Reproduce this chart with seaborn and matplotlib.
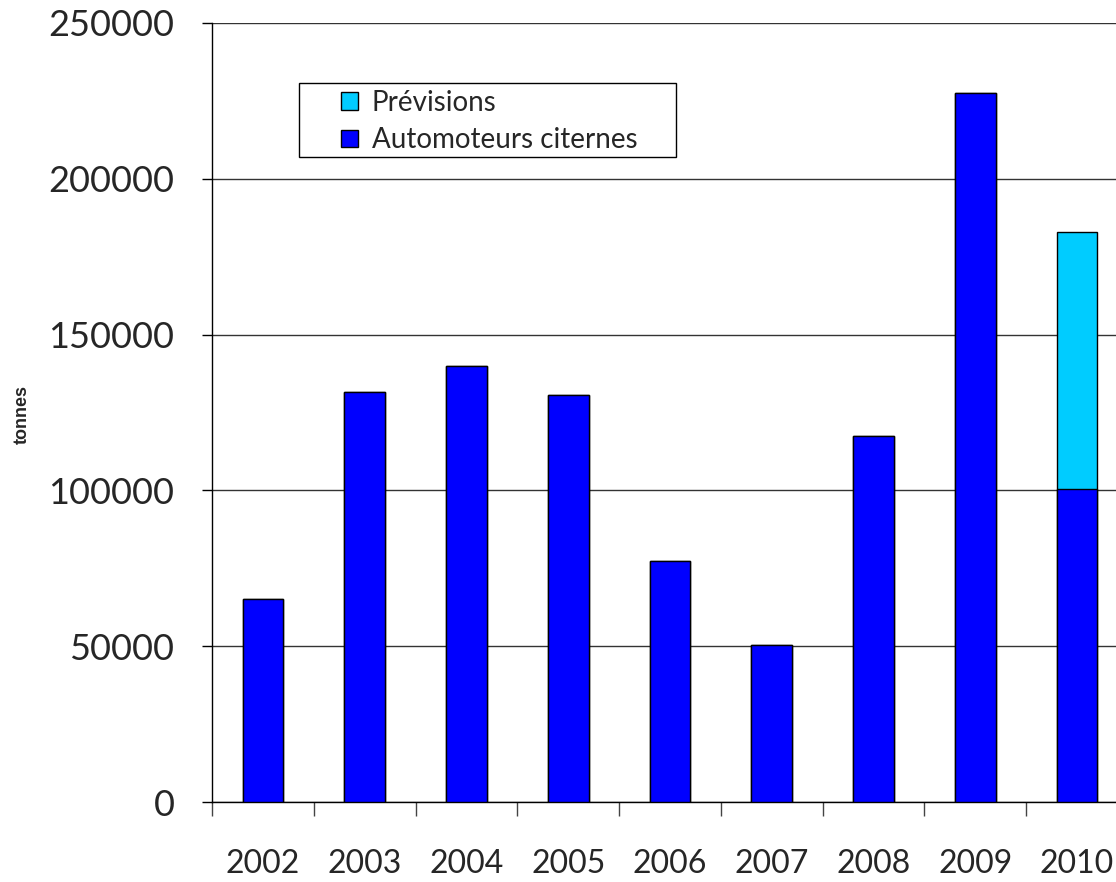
import numpy as np
import pandas as pd
import matplotlib
matplotlib.use("Agg")
import matplotlib.pyplot as plt
from matplotlib.patches import Patch, Rectangle
from matplotlib.ticker import FixedLocator
import seaborn as sns

# data
years = ["2002", "2003", "2004", "2005", "2006", "2007", "2008", "2009", "2010"]
automoteurs = [65000, 131500, 140000, 130500, 77500, 50500, 117500, 227500, 100500]
previsions = [0, 0, 0, 0, 0, 0, 0, 0, 82500]

df = pd.DataFrame({"annee": years, "auto": automoteurs, "prev": previsions})
df["total"] = df["auto"] + df["prev"]

sns.set_style("white")
plt.rcParams["font.family"] = ["Lato", "DejaVu Sans"]

W, H = 1116, 882
fig = plt.figure(figsize=(W / 100, H / 100), dpi=100)
# axes run a little past the right edge, like the original
ax = fig.add_axes([212 / W, 80 / H, 916 / W, 779 / H])

# stacked bars: total (previsions) underneath, automoteurs on top
sns.barplot(data=df, x="annee", y="total", color="#00CCFF", width=0.4,
            edgecolor="black", linewidth=1, saturation=1, ax=ax, zorder=3)
sns.barplot(data=df, x="annee", y="auto", color="#0000FF", width=0.4,
            edgecolor="black", linewidth=1, saturation=1, ax=ax, zorder=3)

ax.set_ylim(0, 250000)
ax.set_xlim(-0.5, len(years) - 0.5)
ax.set_yticks(np.arange(0, 250001, 50000))
ax.yaxis.grid(True, color="#333333", linewidth=1, zorder=0)
ax.set_axisbelow(True)

for s in ["top", "right"]:
    ax.spines[s].set_visible(False)
for s in ["left", "bottom"]:
    ax.spines[s].set_color("black")
    ax.spines[s].set_linewidth(1)

ax.tick_params(axis="y", which="major", direction="out", length=7, width=1,
               color="black", left=True, labelsize=26, pad=20)
ax.tick_params(axis="x", which="major", length=0, labelsize=23, pad=34)
ax.xaxis.set_minor_locator(FixedLocator(np.arange(-0.5, len(years), 1.0)))
ax.tick_params(axis="x", which="minor", direction="out", length=10, width=1,
               color="#444444", bottom=True)

ax.set_xlabel("")
ax.set_ylabel("")
fig.text(22 / W, 1 - 414 / H, "tonnes", rotation=90, ha="center", va="center",
         fontsize=13, fontweight="bold", family=["Liberation Sans", "DejaVu Sans"])

# legend box
fig.patches.append(Rectangle((299 / W, 1 - 157 / H), 377 / W, 74 / H,
                             transform=fig.transFigure, facecolor="white",
                             edgecolor="black", linewidth=1, zorder=5))
handles = [Patch(facecolor="#00CCFF", edgecolor="black", label="Prévisions"),
           Patch(facecolor="#0000FF", edgecolor="black", label="Automoteurs citernes")]
leg = fig.legend(handles=handles, loc="upper left",
                 bbox_to_anchor=(341 / W, 1 - 90 / H),
                 fontsize=20, frameon=False,
                 handlelength=0.6, handleheight=0.6, handletextpad=0.5,
                 labelspacing=0.4, borderpad=0, borderaxespad=0)
leg.set_zorder(6)

fig.savefig("out.png", dpi=100)
